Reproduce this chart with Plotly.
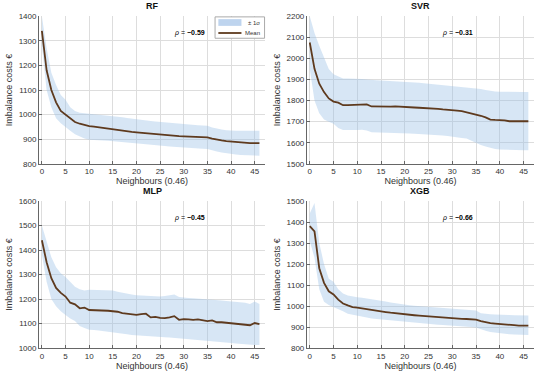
import numpy as np
import plotly.graph_objects as go

neighbours = list(range(47))

# RF
rf_mean = [1340, 1180, 1100, 1050, 1015, 1000, 985, 970, 963, 957, 953, 951, 948, 945, 942, 940,
           938, 935, 932, 930, 928, 926, 924, 922, 921, 920, 918, 916, 915, 913, 912, 911, 910,
           909, 909, 908, 903, 898, 895, 892, 890, 888, 886, 885, 884, 884, 884]
rf_upper = [1400, 1270, 1170, 1120, 1080, 1060, 1030, 1015, 1008, 1006, 1005, 1003, 1001, 999, 997, 995,
            992, 989, 986, 983, 980, 978, 976, 974, 972, 970, 968, 966, 964, 962, 960, 959, 958,
            957, 956, 955, 948, 943, 940, 937, 935, 935, 935, 935, 935, 935, 935]
rf_lower = [1280, 1100, 1030, 985, 965, 950, 935, 920, 910, 903, 898, 897, 896, 895, 894, 893,
            892, 890, 889, 887, 885, 883, 881, 879, 877, 875, 873, 871, 869, 867, 865, 864, 863,
            862, 861, 860, 855, 850, 846, 843, 840, 838, 836, 835, 834, 833, 833]

# SVR
svr_mean = [2075, 1950, 1880, 1840, 1810, 1795, 1790, 1778, 1778, 1779, 1780, 1781, 1782, 1772, 1771, 1770,
            1770, 1771, 1772, 1770, 1768, 1768, 1767, 1766, 1765, 1765, 1763, 1761, 1758, 1757, 1755, 1752, 1750,
            1745, 1740, 1735, 1728, 1720, 1710, 1708, 1708, 1706, 1702, 1702, 1702, 1702, 1702]
svr_upper = [2200, 2120, 2060, 2000, 1950, 1925, 1915, 1905, 1904, 1904, 1903, 1902, 1900, 1897, 1896, 1895,
             1894, 1893, 1892, 1891, 1890, 1888, 1886, 1884, 1882, 1880, 1878, 1876, 1874, 1872, 1870, 1868, 1866,
             1864, 1862, 1860, 1855, 1850, 1845, 1843, 1842, 1841, 1841, 1840, 1840, 1840, 1840]
svr_lower = [1950, 1800, 1740, 1710, 1700, 1690, 1670, 1660, 1660, 1660, 1660, 1662, 1658, 1650, 1648, 1648,
             1647, 1646, 1646, 1645, 1645, 1644, 1643, 1642, 1641, 1640, 1638, 1636, 1634, 1632, 1630, 1627, 1623,
             1620, 1610, 1600, 1590, 1582, 1575, 1570, 1568, 1567, 1566, 1565, 1565, 1565, 1565]

# MLP
mlp_mean = [1440, 1350, 1285, 1245, 1225, 1210, 1185, 1178, 1162, 1165, 1155, 1155, 1155, 1153, 1152, 1150,
            1148, 1142, 1140, 1140, 1135, 1138, 1140, 1125, 1127, 1123, 1122, 1125, 1130, 1115, 1118, 1117, 1115,
            1117, 1113, 1110, 1113, 1105, 1105, 1103, 1100, 1100, 1098, 1097, 1093, 1102, 1097]
mlp_upper = [1500, 1430, 1370, 1330, 1305, 1290, 1270, 1250, 1240, 1235, 1238, 1237, 1236, 1236, 1235, 1235,
             1230, 1225, 1220, 1218, 1215, 1214, 1213, 1212, 1211, 1210, 1212, 1214, 1218, 1208, 1205, 1204, 1203,
             1202, 1201, 1200, 1198, 1196, 1194, 1192, 1190, 1189, 1188, 1185, 1180, 1190, 1180]
mlp_lower = [1380, 1270, 1200, 1170, 1150, 1135, 1120, 1110, 1090, 1082, 1075, 1073, 1071, 1069, 1067, 1065,
             1062, 1059, 1056, 1053, 1050, 1049, 1048, 1047, 1046, 1045, 1044, 1043, 1042, 1041, 1040, 1038, 1036,
             1034, 1032, 1030, 1028, 1026, 1024, 1022, 1020, 1018, 1016, 1014, 1013, 1012, 1012]

# XGB
xgb_mean = [1380, 1355, 1180, 1110, 1070, 1055, 1030, 1012, 1003, 995, 992, 988, 985, 980, 977, 975,
            971, 968, 965, 962, 960, 958, 956, 954, 952, 950, 948, 947, 945, 943, 942, 940, 939,
            938, 936, 935, 928, 922, 918, 916, 915, 913, 912, 909, 907, 907, 907]
xgb_upper = [1440, 1490, 1300, 1200, 1130, 1115, 1080, 1060, 1050, 1045, 1042, 1039, 1036, 1032, 1028, 1025,
             1021, 1017, 1013, 1009, 1005, 1003, 1001, 999, 997, 995, 993, 991, 989, 987, 985, 984, 982,
             981, 980, 978, 965, 962, 961, 960, 960, 958, 957, 956, 955, 955, 955]
xgb_lower = [1310, 1230, 1080, 1020, 1005, 995, 985, 975, 963, 957, 952, 949, 945, 941, 938, 935,
             933, 931, 929, 927, 925, 923, 921, 919, 917, 915, 913, 911, 909, 907, 905, 904, 902,
             901, 900, 898, 890, 882, 876, 873, 870, 868, 866, 864, 862, 862, 862]

rho = {"RF": "-0.59", "SVR": "-0.31", "MLP": "-0.45", "XGB": "-0.66"}

panels = [
    ("RF", rf_mean, rf_upper, rf_lower, [800, 1400]),
    ("SVR", svr_mean, svr_upper, svr_lower, [1500, 2200]),
    ("MLP", mlp_mean, mlp_upper, mlp_lower, [1000, 1600]),
    ("XGB", xgb_mean, xgb_upper, xgb_lower, [800, 1500]),
]

xdoms = [[0.071, 0.482], [0.558, 0.971], [0.071, 0.482], [0.558, 0.971]]
ydoms = [[0.563, 0.957], [0.563, 0.957], [0.072, 0.464], [0.072, 0.464]]

band_col = "rgba(150,190,230,0.38)"
line_col = "#5e3a1e"
font = "Liberation Sans, Arial, sans-serif"

fig = go.Figure()
annotations = []
for i, (name, mean, up, lo, yr) in enumerate(panels):
    ax = "" if i == 0 else str(i + 1)
    xs = neighbours + neighbours[::-1]
    fig.add_trace(go.Scatter(x=xs, y=up + lo[::-1], fill="toself", fillcolor=band_col,
                             line=dict(width=0), mode="lines", name="± 1σ",
                             showlegend=False, xaxis="x" + ax, yaxis="y" + ax, hoverinfo="skip"))
    fig.add_trace(go.Scatter(x=neighbours, y=mean, mode="lines", name="Mean",
                             line=dict(color=line_col, width=1.8),
                             showlegend=False, xaxis="x" + ax, yaxis="y" + ax))
    common = dict(showgrid=True, gridcolor="#dddddd", gridwidth=1, zeroline=False,
                  showline=True, linecolor="#666666", linewidth=1,
                  ticks="inside", ticklen=3, tickcolor="#666666", automargin=False,
                  tickfont=dict(size=8, color="#333333", family=font))
    fig.update_layout(**{
        "xaxis" + ax: dict(domain=xdoms[i], anchor="y" + ax, range=[-0.6, 47.2],
                           dtick=5, tick0=0,
                           title=dict(text="Neighbours (0.46)", font=dict(size=9, color="#333333", family=font),
                                      standoff=2),
                           **common),
        "yaxis" + ax: dict(domain=ydoms[i], anchor="x" + ax, range=yr, dtick=100,
                           title=dict(text="Imbalance costs €", font=dict(size=9, color="#333333", family=font),
                                      standoff=4),
                           **common),
    })
    annotations.append(dict(text="<b>" + name + "</b>", x=(xdoms[i][0] + xdoms[i][1]) / 2,
                            y=ydoms[i][1] + 0.008, xref="paper", yref="paper",
                            xanchor="center", yanchor="bottom", showarrow=False,
                            font=dict(size=9, color="#111111", family=font)))
    annotations.append(dict(text="<i>ρ</i> = <b>−" + rho[name][1:] + "</b>",
                            x=xdoms[i][0] + 0.665 * (xdoms[i][1] - xdoms[i][0]),
                            y=ydoms[i][1] - 0.045, xref="paper", yref="paper",
                            xanchor="center", yanchor="middle", showarrow=False,
                            font=dict(size=7, color="#000000", family=font)))

# small MATLAB-style legend box inside the RF panel
lx0, lx1 = 0.391, 0.481
ly0, ly1 = 0.898, 0.955
shapes = [
    dict(type="rect", xref="paper", yref="paper", x0=lx0, x1=lx1, y0=ly0, y1=ly1,
         line=dict(color="#aaaaaa", width=1), fillcolor="white", layer="above"),
    dict(type="rect", xref="paper", yref="paper", x0=lx0 + 0.006, x1=lx0 + 0.048,
         y0=ly1 - 0.024, y1=ly1 - 0.006, line=dict(width=0), fillcolor="rgba(190,212,238,1)", layer="above"),
    dict(type="line", xref="paper", yref="paper", x0=lx0 + 0.006, x1=lx0 + 0.048,
         y0=ly0 + 0.014, y1=ly0 + 0.014, line=dict(color=line_col, width=1.8), layer="above"),
]
annotations.append(dict(text="± 1σ", x=lx1 - 0.004, y=ly1 - 0.015, xref="paper", yref="paper",
                        xanchor="right", yanchor="middle", showarrow=False,
                        font=dict(size=6, color="#333333", family=font)))
annotations.append(dict(text="Mean", x=lx1 - 0.004, y=ly0 + 0.014, xref="paper", yref="paper",
                        xanchor="right", yanchor="middle", showarrow=False,
                        font=dict(size=6, color="#333333", family=font)))

fig.update_layout(
    width=550, height=375,
    margin=dict(l=0, r=0, t=0, b=0),
    paper_bgcolor="white", plot_bgcolor="white",
    annotations=annotations, shapes=shapes,
    showlegend=False,
)

fig.write_html("out.html", config={"displayModeBar": False},
               post_script="document.body.style.margin='0';")
